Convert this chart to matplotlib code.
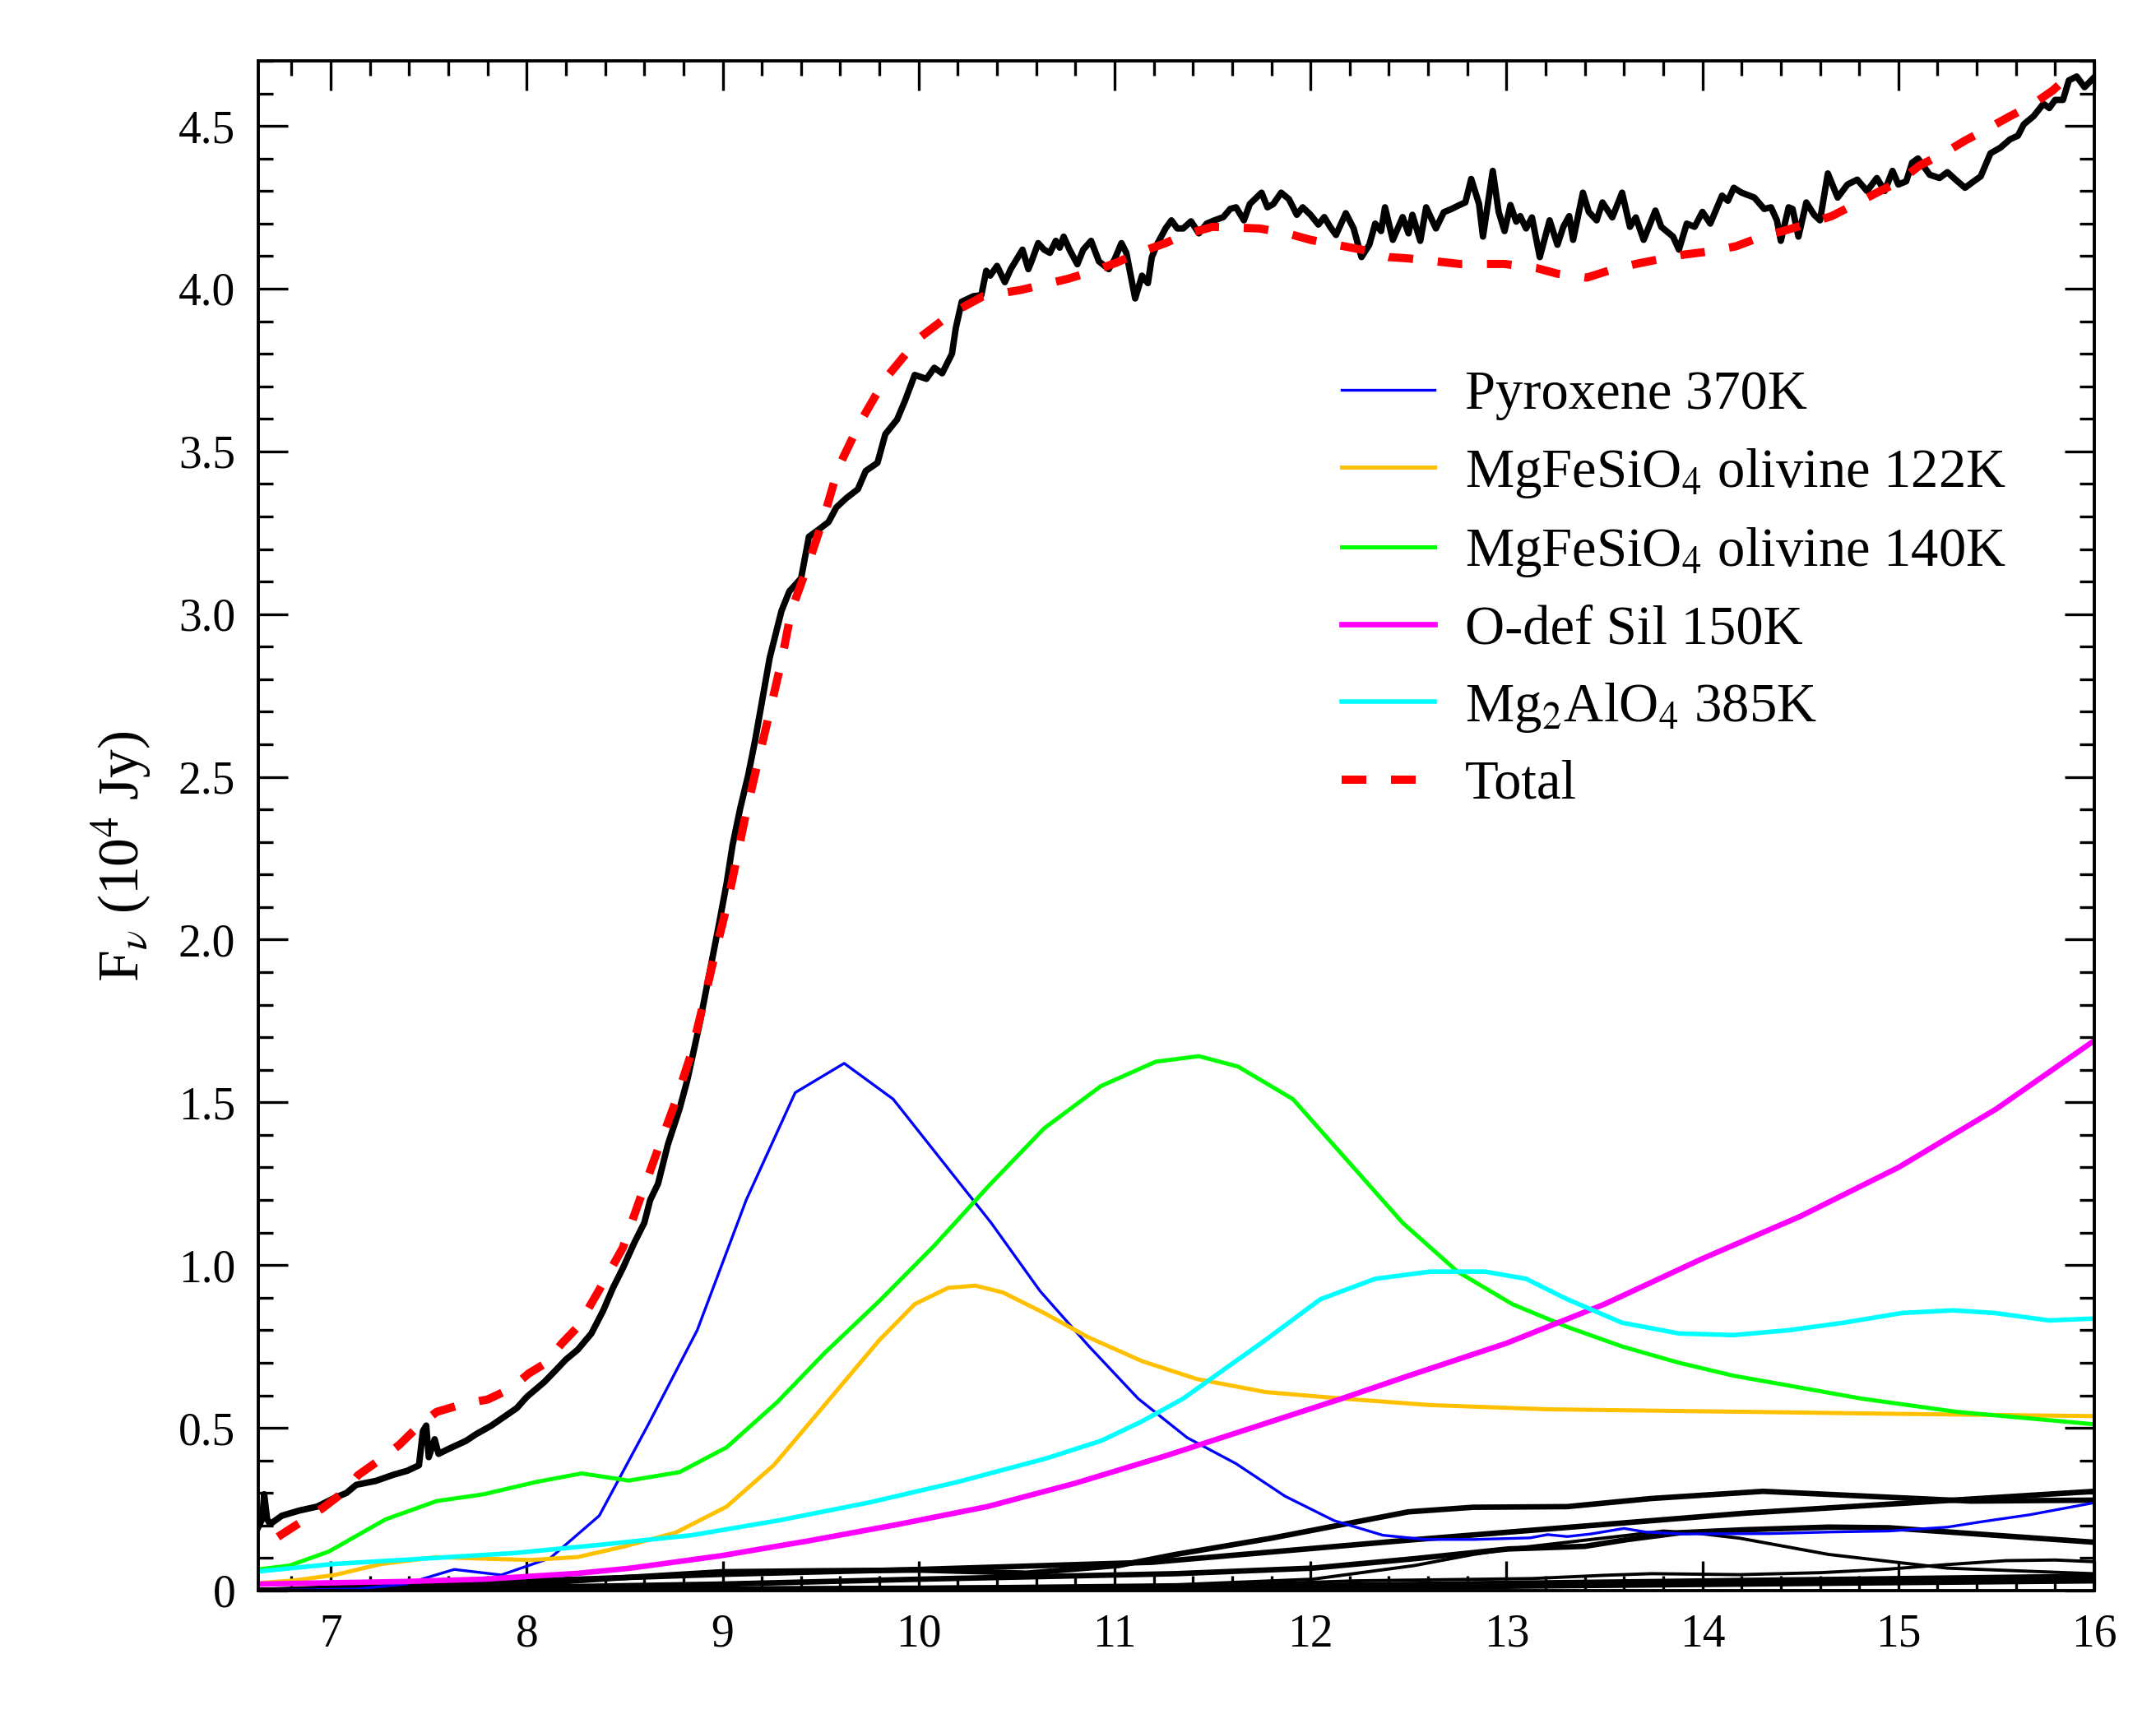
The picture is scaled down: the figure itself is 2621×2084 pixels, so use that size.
import numpy as np
import matplotlib
matplotlib.use('Agg')
import matplotlib.pyplot as plt
from matplotlib.ticker import MultipleLocator

plt.rcParams['font.family'] = ['Liberation Serif', 'DejaVu Serif']
plt.rcParams['mathtext.fontset'] = 'stix'

obs_x = [6.63, 6.65, 6.66, 6.675, 6.69, 6.75, 6.84, 6.93, 7.02, 7.08, 7.13, 7.23, 7.32, 7.39, 7.45,
         7.47, 7.487, 7.50, 7.53, 7.55, 7.60, 7.69, 7.74, 7.82, 7.88, 7.95, 8.00, 8.09, 8.14, 8.20,
         8.26, 8.33, 8.39, 8.44, 8.49, 8.55, 8.60, 8.63, 8.67, 8.72, 8.78, 8.82, 8.88, 8.93, 8.98,
         9.02, 9.05, 9.09, 9.13, 9.165, 9.20, 9.24, 9.30, 9.34, 9.40, 9.44, 9.49, 9.54, 9.58, 9.63,
         9.69, 9.73, 9.79, 9.83, 9.89, 9.93, 9.98, 10.04, 10.08, 10.12, 10.17, 10.19, 10.22, 10.28,
         10.32, 10.345, 10.365, 10.40, 10.44, 10.47, 10.50, 10.53, 10.56, 10.58, 10.61, 10.64, 10.67,
         10.70, 10.72, 10.74, 10.77, 10.81, 10.84, 10.88, 10.92, 10.97, 11.00, 11.035, 11.06, 11.105,
         11.14, 11.17, 11.19, 11.22, 11.26, 11.29, 11.32, 11.35, 11.39, 11.43, 11.47, 11.51, 11.555,
         11.59, 11.62, 11.66, 11.69, 11.75, 11.78, 11.81, 11.85, 11.89, 11.93, 11.96, 12.00, 12.04,
         12.07, 12.10, 12.13, 12.18, 12.22, 12.26, 12.30, 12.33, 12.36, 12.38, 12.42, 12.47, 12.50,
         12.52, 12.56, 12.59, 12.64, 12.68, 12.72, 12.76, 12.79, 12.82, 12.86, 12.88, 12.93, 12.96,
         12.99, 13.02, 13.05, 13.07, 13.10, 13.13, 13.17, 13.22, 13.26, 13.29, 13.32, 13.34, 13.39,
         13.42, 13.46, 13.49, 13.54, 13.59, 13.63, 13.66, 13.70, 13.76, 13.79, 13.85, 13.88, 13.92,
         13.96, 14.00, 14.04, 14.10, 14.13, 14.16, 14.20, 14.265, 14.315, 14.35, 14.38, 14.40, 14.44,
         14.46, 14.49, 14.53, 14.57, 14.60, 14.64, 14.69, 14.74, 14.79, 14.84, 14.89, 14.93, 14.97,
         15.00, 15.04, 15.07, 15.10, 15.16, 15.21, 15.25, 15.29, 15.34, 15.385, 15.42, 15.47, 15.52,
         15.57, 15.61, 15.64, 15.69, 15.74, 15.77, 15.80, 15.84, 15.87, 15.91, 15.95, 16.0]
obs_y = [0.195, 0.22, 0.296, 0.22, 0.204, 0.23, 0.246, 0.258, 0.285, 0.30, 0.325, 0.337, 0.356, 0.368, 0.385,
         0.49, 0.507, 0.41, 0.465, 0.42, 0.435, 0.46, 0.48, 0.507, 0.532, 0.561, 0.595, 0.641, 0.672, 0.71,
         0.74, 0.79, 0.86, 0.93, 0.99, 1.07, 1.13, 1.20, 1.25, 1.37, 1.48, 1.57, 1.735, 1.89, 2.044,
         2.173, 2.289, 2.405, 2.505, 2.611, 2.73, 2.866, 3.01, 3.07, 3.11, 3.238, 3.26, 3.283, 3.328, 3.356,
         3.384, 3.44, 3.465, 3.553, 3.598, 3.655, 3.735, 3.723, 3.757, 3.74, 3.80, 3.88, 3.96, 3.977,
         3.98, 4.055, 4.04, 4.07, 4.02, 4.06, 4.09, 4.12, 4.06, 4.09, 4.14, 4.12, 4.11,
         4.147, 4.126, 4.16, 4.12, 4.075, 4.12, 4.147, 4.084, 4.06, 4.09, 4.14, 4.11, 3.97,
         4.04, 4.017, 4.097, 4.14, 4.185, 4.21, 4.185, 4.185, 4.207, 4.17, 4.20, 4.21, 4.22,
         4.245, 4.25, 4.21, 4.26, 4.295, 4.25, 4.26, 4.295, 4.275, 4.227, 4.25, 4.227, 4.197,
         4.22, 4.19, 4.165, 4.232, 4.185, 4.097, 4.135, 4.20, 4.177, 4.25, 4.15, 4.22, 4.17,
         4.227, 4.147, 4.25, 4.185, 4.235, 4.245, 4.257, 4.265, 4.337, 4.26, 4.16, 4.362, 4.236,
         4.177, 4.257, 4.206, 4.223, 4.185, 4.219, 4.097, 4.21, 4.135, 4.19, 4.223, 4.15, 4.295,
         4.236, 4.21, 4.265, 4.219, 4.295, 4.19, 4.219, 4.15, 4.24, 4.19, 4.16, 4.12, 4.20,
         4.19, 4.236, 4.20, 4.286, 4.27, 4.31, 4.295, 4.28, 4.245, 4.25, 4.21, 4.147, 4.25,
         4.245, 4.16, 4.265, 4.227, 4.21, 4.354, 4.28, 4.32, 4.335, 4.30, 4.34, 4.30, 4.362,
         4.32, 4.33, 4.387, 4.40, 4.35, 4.34, 4.358, 4.336, 4.31, 4.33, 4.345, 4.416, 4.433,
         4.459, 4.47, 4.505, 4.53, 4.568, 4.555, 4.58, 4.58, 4.64, 4.652, 4.619, 4.65]

# total model
tot_x = [6.73, 6.96, 7.07, 7.14, 7.26, 7.35, 7.45, 7.54, 7.68, 7.80, 7.92, 8.01, 8.10, 8.18, 8.26,
         8.37, 8.49, 8.58, 8.67, 8.76, 8.84, 8.90, 8.96, 9.02, 9.07, 9.12, 9.18, 9.24, 9.30, 9.35,
         9.44, 9.52, 9.59, 9.70, 9.83, 10.00, 10.17, 10.33, 10.52, 10.62, 10.76, 10.87, 11.01, 11.12,
         11.26, 11.35, 11.50, 11.74, 11.88, 12.00, 12.13, 12.26, 12.40, 12.50, 12.64, 12.76, 12.89,
         12.99, 13.155, 13.26, 13.41, 13.52, 13.66, 13.76, 13.91, 14.03, 14.17, 14.285, 14.41, 14.53,
         14.66, 14.77, 14.89, 15.00, 15.11, 15.22, 15.34, 15.45, 15.57, 15.68, 15.79, 15.88]
tot_y = [0.165, 0.254, 0.305, 0.355, 0.406, 0.448, 0.507, 0.549, 0.574, 0.587, 0.621, 0.667, 0.70, 0.76, 0.81,
         0.924, 1.053, 1.207, 1.356, 1.503, 1.651, 1.80, 1.955, 2.10, 2.245, 2.392, 2.547, 2.70, 2.855, 3.01,
         3.16, 3.305, 3.45, 3.588, 3.723, 3.847, 3.925, 3.977, 3.996, 4.01, 4.03, 4.05, 4.08, 4.11,
         4.14, 4.165, 4.19, 4.185, 4.17, 4.15, 4.135, 4.12, 4.097, 4.093, 4.084, 4.076, 4.076,
         4.076, 4.063, 4.046, 4.034, 4.055, 4.076, 4.088, 4.105, 4.114, 4.13, 4.156, 4.177, 4.198,
         4.223, 4.257, 4.295, 4.328, 4.379, 4.412, 4.455, 4.49, 4.53, 4.564, 4.61, 4.66]

# dust components
pyr_x = [6.63, 7.13, 7.38, 7.63, 7.87, 8.12, 8.37, 8.62, 8.87, 9.12, 9.37, 9.62, 9.87, 10.12, 10.37,
         10.62, 10.87, 11.12, 11.37, 11.62, 11.87, 12.12, 12.37, 12.59, 12.83, 13.12, 13.21, 13.31, 13.43,
         13.60, 13.71, 13.89, 14.34, 14.65, 14.95, 15.25, 15.43, 15.67, 16.0]
pyr_y = [0.0, 0.005, 0.02, 0.065, 0.048, 0.10, 0.23, 0.51, 0.80, 1.20, 1.53, 1.62, 1.51, 1.32, 1.13,
         0.92, 0.75, 0.59, 0.47, 0.39, 0.29, 0.215, 0.17, 0.157, 0.157, 0.162, 0.172, 0.166, 0.174,
         0.191, 0.18, 0.174, 0.175, 0.18, 0.183, 0.195, 0.212, 0.233, 0.27]

ol122_x = [6.63, 6.81, 7.02, 7.26, 7.54, 7.78, 8.02, 8.26, 8.50, 8.76, 9.02, 9.26, 9.38, 9.59, 9.80,
           9.98, 10.15, 10.29, 10.43, 10.64, 10.86, 11.14, 11.42, 11.77, 12.16, 12.61, 13.21, 14.25, 15.0, 16.0]
ol122_y = [0.023, 0.031, 0.048, 0.082, 0.103, 0.098, 0.094, 0.103, 0.136, 0.178, 0.258, 0.385, 0.47, 0.62, 0.77,
           0.88, 0.93, 0.937, 0.916, 0.853, 0.78, 0.705, 0.65, 0.61, 0.59, 0.57, 0.557, 0.549, 0.543, 0.536]

ol140_x = [6.63, 6.79, 6.99, 7.28, 7.54, 7.78, 8.05, 8.28, 8.52, 8.78, 9.02, 9.28, 9.52, 9.80, 10.08,
           10.36, 10.64, 10.93, 11.21, 11.43, 11.63, 11.91, 12.19, 12.47, 12.75, 13.03, 13.31, 13.59, 13.88,
           14.16, 14.44, 14.81, 15.30, 16.0]
ol140_y = [0.065, 0.077, 0.12, 0.219, 0.275, 0.296, 0.334, 0.36, 0.338, 0.364, 0.44, 0.58, 0.73, 0.89, 1.06,
           1.245, 1.42, 1.55, 1.625, 1.642, 1.61, 1.51, 1.32, 1.13, 0.98, 0.88, 0.81, 0.75, 0.70,
           0.66, 0.63, 0.59, 0.549, 0.511]

odef_x = [6.63, 7.38, 7.78, 8.26, 8.53, 8.99, 9.44, 9.90, 10.35, 10.80, 11.26, 11.70, 12.16, 12.50, 13.00,
          13.50, 14.00, 14.50, 15.00, 15.50, 16.0]
odef_y = [0.02, 0.028, 0.035, 0.053, 0.069, 0.107, 0.153, 0.204, 0.258, 0.33, 0.414, 0.50, 0.59, 0.66, 0.76,
          0.88, 1.02, 1.15, 1.30, 1.48, 1.69]

spin_x = [6.63, 7.02, 7.47, 7.93, 8.38, 8.84, 9.29, 9.75, 10.20, 10.65, 10.93, 11.14, 11.35, 11.49, 11.77,
          12.05, 12.33, 12.61, 12.89, 13.10, 13.31, 13.59, 13.88, 14.16, 14.44, 14.72, 15.02, 15.28, 15.49,
          15.77, 16.0]
spin_y = [0.059, 0.082, 0.098, 0.115, 0.141, 0.17, 0.216, 0.271, 0.334, 0.406, 0.46, 0.52, 0.59, 0.65, 0.77,
          0.895, 0.958, 0.98, 0.98, 0.958, 0.895, 0.823, 0.79, 0.785, 0.80, 0.823, 0.853, 0.861, 0.853,
          0.83, 0.836]

# unlabelled black components at the bottom
blk1_x = [6.63, 7.5, 8.0, 8.5, 9.0, 9.5, 10.0, 10.3, 10.55, 11.02, 11.31, 11.8, 12.5, 12.83, 13.31, 13.74, 14.31, 15.37, 16.0]
blk1_y = [0.0, 0.005, 0.02, 0.04, 0.058, 0.061, 0.063, 0.058, 0.0535, 0.077, 0.111, 0.161, 0.242, 0.256, 0.258, 0.283, 0.305, 0.275, 0.278]
blk2_x = [6.63, 8.0, 9.0, 10.0, 11.19, 12.5, 14.22, 16.0]
blk2_y = [0.0, 0.03, 0.05, 0.065, 0.087, 0.155, 0.238, 0.305]
blk3_x = [6.63, 8.0, 9.0, 10.0, 11.315, 12.01, 12.53, 13.01, 13.40, 13.62, 13.89, 14.22, 14.645, 14.95, 15.40, 15.99]
blk3_y = [0.0, 0.01, 0.02, 0.035, 0.052, 0.069, 0.098, 0.128, 0.136, 0.157, 0.178, 0.187, 0.195, 0.193, 0.174, 0.149]
blk4_x = [6.63, 9.0, 10.0, 11.315, 12.01, 12.53, 12.83, 13.07, 13.62, 13.80, 13.95, 14.19, 14.645, 15.25, 15.99]
blk4_y = [0.0, 0.005, 0.01, 0.018, 0.035, 0.077, 0.111, 0.132, 0.170, 0.183, 0.178, 0.161, 0.111, 0.069, 0.052]
blk5_x = [6.63, 9.0, 10.5, 11.315, 12.23, 13.13, 13.5, 13.74, 14.19, 14.6, 14.95, 15.25, 15.55, 15.8, 15.99]
blk5_y = [0.0, 0.004, 0.008, 0.012, 0.03, 0.037, 0.047, 0.052, 0.049, 0.055, 0.066, 0.08, 0.092, 0.094, 0.089]
blk6_x = [6.63, 11.3, 16.0]
blk6_y = [0.0, 0.01, 0.044]
blk7_x = [6.63, 11.3, 16.0]
blk7_y = [0.0, 0.004, 0.03]

fig = plt.figure(figsize=(13.105, 10.42), dpi=200)
ax = fig.add_axes([0.1198, 0.072, 0.8516, 0.8925])

# bottom black components
for bx, by, lw in [(blk1_x, blk1_y, 2.4), (blk2_x, blk2_y, 2.4), (blk3_x, blk3_y, 2.4),
                   (blk4_x, blk4_y, 1.4), (blk5_x, blk5_y, 1.4), (blk6_x, blk6_y, 2.4), (blk7_x, blk7_y, 2.4)]:
    ax.plot(bx, by, color='black', lw=lw, solid_joinstyle='round')

ax.plot(pyr_x, pyr_y, color='#0000ff', lw=1.2, label='Pyroxene 370K')
ax.plot(ol122_x, ol122_y, color='#ffc000', lw=1.8, label='MgFeSiO$_4$ olivine 122K')
ax.plot(ol140_x, ol140_y, color='#00ff00', lw=1.8, label='MgFeSiO$_4$ olivine 140K')
ax.plot(odef_x, odef_y, color='#ff00ff', lw=2.4, label='O-def Sil 150K')
ax.plot(spin_x, spin_y, color='#00ffff', lw=2.0, label='Mg$_2$AlO$_4$ 385K')
ax.plot(obs_x, obs_y, color='black', lw=2.8, solid_joinstyle='round')
ax.plot(tot_x, tot_y, color='#ff0000', lw=3.6, ls=(0, (3, 3)), label='Total')

ax.set_xlim(6.63, 16.0)
ax.set_ylim(0, 4.7)
ax.xaxis.set_major_locator(MultipleLocator(1))
ax.xaxis.set_minor_locator(MultipleLocator(0.2))
ax.yaxis.set_major_locator(MultipleLocator(0.5))
ax.yaxis.set_minor_locator(MultipleLocator(0.1))
ax.set_yticks([0, 0.5, 1, 1.5, 2, 2.5, 3, 3.5, 4, 4.5])
ax.set_yticklabels(['0', '0.5', '1.0', '1.5', '2.0', '2.5', '3.0', '3.5', '4.0', '4.5'])
ax.tick_params(which='both', direction='in', top=True, right=True, width=1.2, labelsize=20, pad=10)
ax.tick_params(which='major', length=13)
ax.tick_params(which='minor', length=6.5)
for s in ax.spines.values():
    s.set_linewidth(1.4)

ax.set_ylabel(r'F$_{\nu}$ (10$^4$ Jy)', fontsize=25)
ax.yaxis.set_label_coords(-0.057, 0.48)

leg = ax.legend(loc='upper left', bbox_to_anchor=(0.563, 0.830), frameon=False, fontsize=24,
                handlelength=1.7, handletextpad=0.55, labelspacing=0.47)

fig.savefig('out.png', dpi=200)
